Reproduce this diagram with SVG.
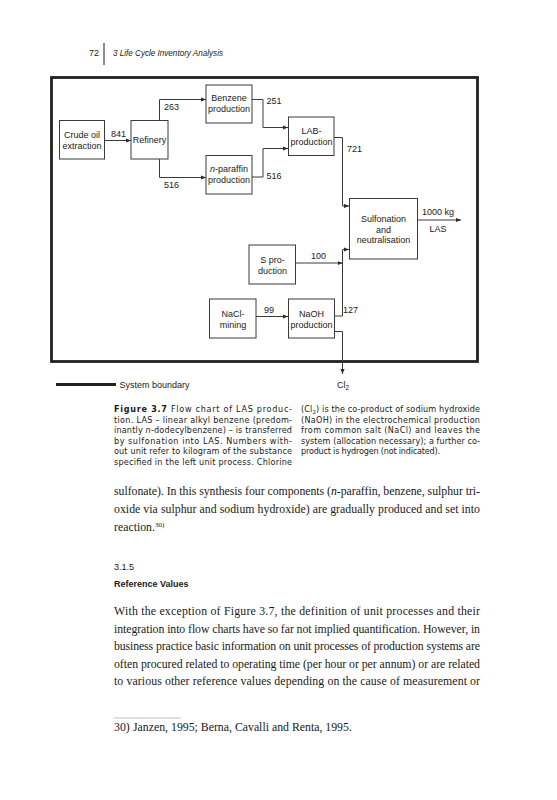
<svg xmlns="http://www.w3.org/2000/svg" width="557" height="800" viewBox="0 0 557 800">
<style>
.bx{fill:#fff;stroke:#3a3a3a;stroke-width:1}
.ln{fill:none;stroke:#3a3a3a;stroke-width:1}
.dt{font-family:"Liberation Sans",Arial,sans-serif;font-size:9px;fill:#1a1a1a}
.c{text-anchor:middle}
.cap{font-family:"DejaVu Sans","Liberation Sans",sans-serif;font-size:8.1px;fill:#1a1a1a}
.body{font-family:"Liberation Serif","Times New Roman",serif;font-size:11.8px;fill:#1a1a1a}
.hd{font-family:"Liberation Sans",Arial,sans-serif;font-size:9px;fill:#1a1a1a}
</style>
<defs>
<marker id="ar" viewBox="0 0 6 6" refX="6" refY="3" markerWidth="5" markerHeight="5" orient="auto" markerUnits="userSpaceOnUse">
<path d="M0,0.5 L6,3 L0,5.5 Z" fill="#2a2a2a"/>
</marker>
</defs>
<rect width="557" height="800" fill="#fff"/>

<g id="header">
<text class="hd" x="99" y="56" text-anchor="end">72</text>
<line x1="104" y1="43" x2="104" y2="65" stroke="#1a1a1a" stroke-width="1"/>
<text class="hd" x="113" y="56" font-size="8.5" font-style="italic" textLength="110" lengthAdjust="spacingAndGlyphs">3  Life Cycle Inventory Analysis</text>
</g>

<g id="frame">
<rect x="51.5" y="77.5" width="426" height="284" fill="none" stroke="#222" stroke-width="2.8"/>
</g>

<g id="connectors">
<line class="ln" x1="104" y1="140.5" x2="131" y2="140.5" marker-end="url(#ar)"/>
<polyline class="ln" points="159.5,120 159.5,99.5 206,99.5" marker-end="url(#ar)"/>
<polyline class="ln" points="159.5,159 159.5,177.5 206,177.5" marker-end="url(#ar)"/>
<polyline class="ln" points="252,99.5 263,99.5 263,127.5 288,127.5" marker-end="url(#ar)"/>
<polyline class="ln" points="252,177 263,177 263,148.5 288,148.5" marker-end="url(#ar)"/>
<polyline class="ln" points="334,137.5 342.5,137.5 342.5,206 349,206" marker-end="url(#ar)"/>
<line class="ln" x1="296" y1="263" x2="342.5" y2="263" marker-end="url(#ar)"/>
<polyline class="ln" points="335,316 342.5,316 342.5,249.5 349,249.5" marker-end="url(#ar)"/>
<line class="ln" x1="256" y1="316.5" x2="288" y2="316.5" marker-end="url(#ar)"/>
<polyline class="ln" points="335,331.5 342.5,331.5 342.5,374" marker-end="url(#ar)"/>
<line class="ln" x1="392" y1="220" x2="461" y2="220" marker-end="url(#ar)"/>
</g>

<g id="crude-oil">
<rect class="bx" x="59.5" y="120.5" width="45" height="38.5"/>
<text class="dt c" x="82" y="137.5">Crude oil</text>
<text class="dt c" x="82" y="149">extraction</text>
</g>
<g id="refinery">
<rect class="bx" x="131" y="120.5" width="37" height="38.5"/>
<text class="dt c" x="149.5" y="143">Refinery</text>
</g>
<g id="benzene">
<rect class="bx" x="206" y="85" width="46" height="38"/>
<text class="dt c" x="229" y="101">Benzene</text>
<text class="dt c" x="229" y="112">production</text>
</g>
<g id="n-paraffin">
<rect class="bx" x="206" y="155.5" width="46" height="38.5"/>
<text class="dt c" x="229" y="172"><tspan font-style="italic">n</tspan>-paraffin</text>
<text class="dt c" x="229" y="183">production</text>
</g>
<g id="lab">
<rect class="bx" x="288.5" y="117" width="45.5" height="38.5"/>
<text class="dt c" x="311.5" y="133.5">LAB-</text>
<text class="dt c" x="311.5" y="144.5">production</text>
</g>
<g id="sulfonation">
<rect class="bx" x="349.5" y="198.5" width="68" height="60.5"/>
<text class="dt c" x="383.5" y="222">Sulfonation</text>
<text class="dt c" x="383.5" y="232.5">and</text>
<text class="dt c" x="383.5" y="243">neutralisation</text>
</g>
<g id="s-production">
<rect class="bx" x="249" y="245" width="46.5" height="39"/>
<text class="dt c" x="272.5" y="263">S pro-</text>
<text class="dt c" x="272.5" y="273.5">duction</text>
</g>
<g id="nacl">
<rect class="bx" x="209.5" y="299" width="46.5" height="39"/>
<text class="dt c" x="233" y="317">NaCl-</text>
<text class="dt c" x="233" y="327.5">mining</text>
</g>
<g id="naoh">
<rect class="bx" x="288.5" y="299" width="46" height="39"/>
<text class="dt c" x="311.5" y="317">NaOH</text>
<text class="dt c" x="311.5" y="327.5">production</text>
</g>

<g id="flow-labels">
<text class="dt" x="111" y="137">841</text>
<text class="dt" x="164" y="110">263</text>
<text class="dt" x="164" y="188">516</text>
<text class="dt" x="266.5" y="104">251</text>
<text class="dt" x="266.5" y="179">516</text>
<text class="dt" x="347" y="152">721</text>
<text class="dt" x="422" y="215">1000 kg</text>
<text class="dt c" x="438" y="232">LAS</text>
<text class="dt" x="311" y="259">100</text>
<text class="dt" x="264" y="313">99</text>
<text class="dt" x="343" y="313">127</text>
</g>

<g id="legend">
<line x1="56" y1="384.5" x2="116" y2="384.5" stroke="#222" stroke-width="3"/>
<text class="dt" x="119.5" y="388">System boundary</text>
<text class="dt" x="337" y="388">Cl<tspan font-size="6.5" dy="2">2</tspan></text>
</g>

<g id="caption">
<text class="cap" x="114" y="412" textLength="178" lengthAdjust="spacing"><tspan font-weight="bold">Figure 3.7</tspan>  Flow chart of LAS produc-</text>
<text class="cap" x="114" y="422.5" textLength="178" lengthAdjust="spacing">tion. LAS – linear alkyl benzene (predom-</text>
<text class="cap" x="114" y="433" textLength="178" lengthAdjust="spacing">inantly <tspan font-style="italic">n</tspan>-dodecylbenzene) – is transferred</text>
<text class="cap" x="114" y="443.5" textLength="178" lengthAdjust="spacing">by sulfonation into LAS. Numbers with-</text>
<text class="cap" x="114" y="454" textLength="178" lengthAdjust="spacing">out unit refer to kilogram of the substance</text>
<text class="cap" x="114" y="464.5" textLength="178" lengthAdjust="spacing">specified in the left unit process. Chlorine</text>
<text class="cap" x="301" y="412" textLength="179" lengthAdjust="spacing">(Cl<tspan font-size="5.5" dy="1.5">2</tspan><tspan dy="-1.5">) is the co-product of sodium hydroxide</tspan></text>
<text class="cap" x="301" y="422.5" textLength="179" lengthAdjust="spacing">(NaOH) in the electrochemical production</text>
<text class="cap" x="301" y="433" textLength="179" lengthAdjust="spacing">from common salt (NaCl) and leaves the</text>
<text class="cap" x="301" y="443.5" textLength="179" lengthAdjust="spacing">system (allocation necessary); a further co-</text>
<text class="cap" x="301" y="454" textLength="139" lengthAdjust="spacing">product is hydrogen (not indicated).</text>
</g>

<g id="body">
<text class="body" x="114" y="495" textLength="366" lengthAdjust="spacing">sulfonate). In this synthesis four components (<tspan font-style="italic">n</tspan>-paraffin, benzene, sulphur tri-</text>
<text class="body" x="114" y="513" textLength="366" lengthAdjust="spacing">oxide via sulphur and sodium hydroxide) are gradually produced and set into</text>
<text class="body" x="114" y="531">reaction.<tspan font-size="7" dy="-4">30)</tspan></text>
<text class="hd" x="114" y="570" font-size="10">3.1.5</text>
<text class="hd" x="114" y="587" font-size="10" font-weight="bold">Reference Values</text>
<text class="body" x="114" y="615" textLength="366" lengthAdjust="spacing">With the exception of Figure 3.7, the definition of unit processes and their</text>
<text class="body" x="114" y="632.5" textLength="366" lengthAdjust="spacing">integration into flow charts have so far not implied quantification. However, in</text>
<text class="body" x="114" y="650" textLength="366" lengthAdjust="spacing">business practice basic information on unit processes of production systems are</text>
<text class="body" x="114" y="667.5" textLength="366" lengthAdjust="spacing">often procured related to operating time (per hour or per annum) or are related</text>
<text class="body" x="114" y="685" textLength="366" lengthAdjust="spacing">to various other reference values depending on the cause of measurement or</text>
</g>

<g id="footnote">
<line x1="114" y1="718" x2="181" y2="718" stroke="#999" stroke-width="0.6"/>
<text class="body" x="114" y="731" font-size="8.5">30)</text>
<text class="body" x="133" y="731" font-size="8.5">Janzen, 1995; Berna, Cavalli and Renta, 1995.</text>
</g>
</svg>
